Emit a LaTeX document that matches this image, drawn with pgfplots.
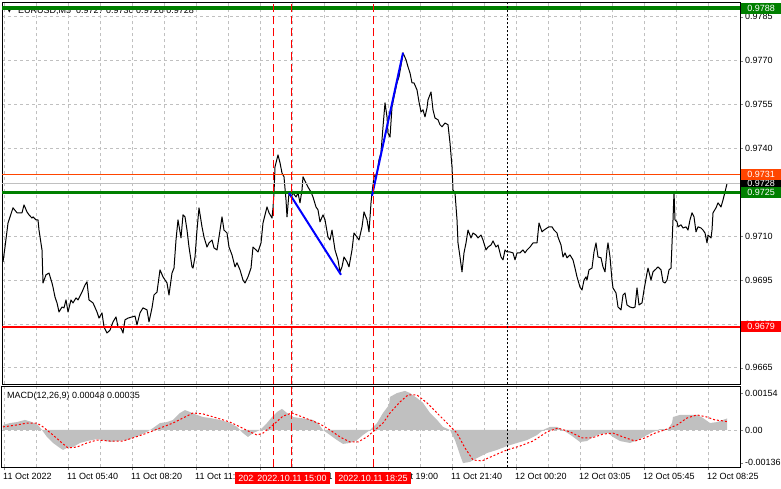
\documentclass[border=0pt]{standalone}
\usepackage{pgfplots}
\pgfplotsset{compat=1.18}
\usepackage{fontspec}
\setmainfont{Liberation Sans}
\newfontfamily\symfont{DejaVu Sans}

\definecolor{mtgreen}{HTML}{008000}
\definecolor{mtorange}{HTML}{FF4500}
\definecolor{mtred}{HTML}{FF0000}
\definecolor{mtblue}{HTML}{0000FF}
\definecolor{mtgrid}{HTML}{C0C0C0}
\newcommand\mt{\fontsize{9pt}{10pt}\selectfont}

\pgfplotsset{
  mtbase/.style={
    scale only axis, anchor=south west,
    xmin=2, xmax=740,
    axis line style={black, line width=1pt},
    tick align=outside, major tick length=3pt, minor tick length=0pt,
    ytick pos=right, yticklabel pos=right,
    tick label style={font=\mt, black},
    yticklabel style={anchor=west, inner sep=1pt, xshift=1pt},
    major grid style={mtgrid, line width=0.8pt, dash pattern=on 3pt off 3pt},
    minor grid style={mtgrid, line width=0.8pt, dash pattern=on 3pt off 3pt},
    scaled ticks=false,
    /pgf/number format/assume math mode=true,
  },
  tline/.style={red, line width=1pt, dash pattern=on 8pt off 4pt},
  nowline/.style={black, line width=1pt, dash pattern=on 2pt off 2pt},
}

\begin{document}
\begin{tikzpicture}
\useasboundingbox (0pt,0pt) rectangle (781pt,489pt);
\fill[white] (0pt,0pt) rectangle (781pt,489pt);

% header text sits under the level lines
\node[anchor=base west, inner sep=0pt, font=\fontsize{6pt}{7pt}\symfont] at (7pt,476pt) {▼};
\node[anchor=base west, inner sep=0pt, font=\mt] at (18pt,475pt) {EURUSD,M5\ \ 0.9727 0.9730 0.9726 0.9728};
\node[anchor=base west, inner sep=0pt, font=\mt] at (7pt,90pt) {MACD(12,26,9) 0.00048 0.00035};

% ---------------- price panel ----------------
\begin{axis}[mtbase,
  at={(2pt,104.5pt)}, width=738pt, height=382pt,
  ymin=0.96593, ymax=0.97899,
  xtick={4,36,...,708}, xticklabels={}, xtick style={draw=none},
  xmajorgrids, ymajorgrids,
  ytick={0.9665,0.968,0.9695,0.971,0.9725,0.974,0.9755,0.977,0.9785},
  yticklabels={0.9665,0.9680,0.9695,0.9710,0.9725,0.9740,0.9755,0.9770,0.9785},
]
\addplot[black, line width=1pt, line join=round, mark=none] coordinates {
(3,0.97012) (5,0.97063) (8,0.97145) (13,0.97197) (17,0.97180) (22,0.97180) (24,0.97207) (27,0.97183) (29,0.97173) (32,0.97162) (33,0.97166) (36,0.97156) (38,0.97156) (39,0.97121) (42,0.97053) (43,0.96940) (46,0.96968) (49,0.96974) (52,0.96940) (53,0.96926) (55,0.96892) (57,0.96872) (59,0.96841) (62,0.96858) (64,0.96855) (66,0.96882) (68,0.96841) (71,0.96882) (73,0.96872) (76,0.96889) (78,0.96882) (82,0.96909) (85,0.96933) (87,0.96944) (89,0.96882) (93,0.96872) (97,0.96841) (99,0.96820) (102,0.96838) (104,0.96790) (107,0.96769) (110,0.96779) (113,0.96807) (116,0.96824) (118,0.96790) (121,0.96786) (123,0.96769) (125,0.96814) (128,0.96820) (132,0.96824) (135,0.96827) (137,0.96797) (140,0.96838) (143,0.96855) (147,0.96848) (149,0.96807) (152,0.96855) (154,0.96899) (157,0.96909) (160,0.96985) (163,0.96961) (167,0.96940) (169,0.96899) (172,0.96974) (174,0.96991) (176,0.97087) (178,0.97156) (181,0.97094) (183,0.97173) (185,0.97166) (187,0.97121) (189,0.97063) (192,0.96995) (193,0.96991) (195,0.97029) (197,0.97121) (199,0.97197) (202,0.97132) (204,0.97097) (207,0.97063) (209,0.97077) (212,0.97087) (214,0.97060) (217,0.97053) (219,0.97097) (222,0.97166) (224,0.97121) (227,0.97111) (229,0.97063) (232,0.97036) (235,0.96995) (237,0.97009) (240,0.96985) (243,0.96950) (245,0.96940) (248,0.96961) (251,0.96991) (253,0.97063) (256,0.97053) (258,0.97046) (261,0.97077) (263,0.97145) (267,0.97200) (269,0.97180) (272,0.97162) (273,0.97197) (274,0.97248) (275,0.97337) (278,0.97378) (280,0.97351) (282,0.97316) (284,0.97303) (286,0.97224) (287,0.97166) (289,0.97248) (291,0.97234) (293,0.97248) (296,0.97234) (298,0.97248) (300,0.97214) (302,0.97258) (303,0.97303) (306,0.97282) (308,0.97268) (311,0.97251) (313,0.97234) (316,0.97200) (318,0.97190) (320,0.97149) (323,0.97173) (325,0.97156) (328,0.97097) (330,0.97087) (332,0.97121) (335,0.97053) (338,0.97019) (340,0.96978) (342,0.96995) (344,0.97029) (347,0.97012) (349,0.96995) (352,0.97053) (354,0.97111) (357,0.97097) (359,0.97087) (362,0.97132) (364,0.97183) (367,0.97156) (369,0.97115) (371,0.97214) (372,0.97248) (374,0.97303) (377,0.97316) (379,0.97361) (381,0.97385) (383,0.97474) (385,0.97556) (387,0.97508) (388,0.97453) (390,0.97439) (392,0.97542) (394,0.97576) (397,0.97624) (399,0.97645) (402,0.97703) (403,0.97727) (406,0.97703) (408,0.97679) (410,0.97658) (412,0.97624) (414,0.97624) (417,0.97600) (419,0.97559) (421,0.97525) (423,0.97532) (425,0.97508) (427,0.97539) (428,0.97566) (431,0.97593) (433,0.97532) (435,0.97504) (438,0.97498) (440,0.97481) (442,0.97474) (445,0.97487) (448,0.97481) (450,0.97419) (452,0.97337) (453,0.97258) (455,0.97248) (457,0.97156) (458,0.97077) (460,0.97029) (462,0.96978) (464,0.97043) (466,0.97077) (468,0.97121) (471,0.97094) (473,0.97111) (476,0.97104) (478,0.97094) (481,0.97104) (483,0.97087) (486,0.97053) (488,0.97063) (491,0.97070) (493,0.97084) (496,0.97063) (498,0.97070) (501,0.97029) (503,0.97019) (505,0.97053) (507,0.97046) (510,0.97046) (513,0.97043) (515,0.97019) (517,0.97043) (520,0.97043) (523,0.97053) (525,0.97043) (527,0.97053) (530,0.97063) (533,0.97077) (535,0.97077) (537,0.97077) (539,0.97145) (542,0.97115) (544,0.97121) (547,0.97128) (549,0.97132) (552,0.97132) (554,0.97121) (557,0.97111) (558,0.97097) (561,0.97070) (563,0.97029) (565,0.97043) (567,0.97026) (570,0.97036) (573,0.97019) (575,0.96991) (577,0.96961) (580,0.96926) (582,0.96916) (584,0.96950) (586,0.96961) (587,0.96950) (589,0.96985) (592,0.96991) (594,0.97046) (596,0.97077) (598,0.97029) (601,0.97026) (603,0.96995) (605,0.96978) (607,0.97053) (608,0.97077) (610,0.97029) (612,0.96950) (613,0.96923) (616,0.96906) (618,0.96858) (621,0.96848) (623,0.96899) (625,0.96906) (627,0.96865) (630,0.96858) (633,0.96855) (635,0.96858) (637,0.96923) (639,0.96865) (642,0.96872) (644,0.96916) (647,0.96974) (648,0.96991) (651,0.96950) (653,0.96978) (656,0.96988) (658,0.96995) (661,0.96985) (663,0.96944) (665,0.96940) (667,0.96950) (669,0.96985) (671,0.96991) (673,0.97156) (674,0.97251) (675,0.97156) (677,0.97149) (678,0.97132) (681,0.97139) (683,0.97128) (686,0.97132) (688,0.97121) (690,0.97156) (692,0.97180) (694,0.97166) (696,0.97115) (698,0.97132) (701,0.97128) (703,0.97121) (705,0.97111) (707,0.97077) (708,0.97104) (711,0.97094) (712,0.97121) (713,0.97180) (716,0.97197) (718,0.97214) (721,0.97200) (723,0.97224) (725,0.97251) (727,0.97280)
};
% level lines
\addplot[mtgrid, line width=1pt] coordinates {(2,0.9728) (740,0.9728)};
\addplot[mtorange, line width=1pt] coordinates {(2,0.9731) (740,0.9731)};
\addplot[mtgreen, line width=2.6pt] coordinates {(2,0.9725) (740,0.9725)};
\addplot[mtgreen, line width=3.6pt] coordinates {(2,0.9788) (740,0.9788)};
\addplot[mtred, line width=2pt] coordinates {(2,0.9679) (740,0.9679)};
% trend segments
\addplot[mtblue, line width=2pt] coordinates {(289,0.97248) (341,0.96968)};
\addplot[mtblue, line width=2pt] coordinates {(372,0.97238) (403,0.97727)};
% time markers
\addplot[tline] coordinates {(273,0.96593) (273,0.97899)};
\addplot[tline] coordinates {(291,0.96593) (291,0.97899)};
\addplot[tline] coordinates {(373,0.96593) (373,0.97899)};
\addplot[nowline] coordinates {(507,0.96593) (507,0.97899)};
\coordinate (L9788) at (axis cs:740,0.9788);
\coordinate (L9731) at (axis cs:740,0.9731);
\coordinate (L9728) at (axis cs:740,0.9728);
\coordinate (L9725) at (axis cs:740,0.9725);
\coordinate (L9679) at (axis cs:740,0.9679);
\end{axis}

% ---------------- MACD panel ----------------
\begin{axis}[mtbase,
  at={(2pt,21.5pt)}, width=738pt, height=81pt,
  ymin=-0.001564, ymax=0.001814,
  xtick pos=bottom,
  xtick={4,68,...,708},
  minor xtick={36,100,...,676},
  xticklabels={11 Oct 2022,11 Oct 05:40,11 Oct 08:20,11 Oct 11:00,11 Oct 13:40,11 Oct 16:20,11 Oct 19:00,11 Oct 21:40,12 Oct 00:20,12 Oct 03:05,12 Oct 05:45,12 Oct 08:25},
  xticklabel style={anchor=north west, inner sep=1pt, xshift=-2pt, yshift=-2pt},
  xmajorgrids, xminorgrids,
  ytick={-0.00136,0,0.00154},
  yticklabels={-0.00136,0.00,0.00154},
]
\addplot[mtgrid, line width=0.8pt, dash pattern=on 3pt off 3pt] coordinates {(2,0) (740,0)};
% MACD histogram
\addplot[fill=mtgrid, draw=none] coordinates {
(3,0) (3,0.00021) (10,0.00029) (17,0.00033) (25,0.00042) (32,0.00033) (38,0.00021) (42,0) (47,-0.00029) (53,-0.00054) (60,-0.00075) (63,-0.00083) (67,-0.00075) (73,-0.00071) (80,-0.00054) (87,-0.00046) (97,-0.00038) (103,-0.00042) (110,-0.00050) (117,-0.00046) (127,-0.00042) (133,-0.00033) (140,-0.00021) (147,-0.00008) (153,0.00008) (160,0.00029) (167,0.00033) (173,0.00042) (180,0.00071) (185,0.00083) (190,0.00075) (197,0.00063) (203,0.00054) (210,0.00050) (220,0.00042) (230,0.00029) (237,0.00013) (243,-0.00013) (248,-0.00029) (253,-0.00013) (260,0) (267,0.00029) (272,0.00054) (277,0.00075) (282,0.00088) (287,0.00071) (293,0.00054) (300,0.00050) (307,0.00046) (313,0.00042) (318,0.00029) (323,0) (330,-0.00021) (337,-0.00042) (343,-0.00058) (350,-0.00054) (357,-0.00042) (363,-0.00021) (370,0) (377,0.00029) (383,0.00071) (389,0.00104) (390,0.00138) (397,0.00154) (405,0.00163) (410,0.00154) (417,0.00133) (423,0.00113) (430,0.00071) (437,0.00042) (443,0.00013) (450,0) (455,-0.00042) (460,-0.00104) (463,-0.00138) (470,-0.00133) (477,-0.00117) (487,-0.00096) (497,-0.00083) (507,-0.00067) (517,-0.00054) (527,-0.00042) (537,-0.00021) (543,0) (550,0.00013) (557,0.00013) (563,0) (572,-0.00025) (580,-0.00050) (587,-0.00046) (593,-0.00029) (600,-0.00017) (608,-0.00013) (613,-0.00029) (620,-0.00046) (630,-0.00054) (638,-0.00042) (647,-0.00021) (653,-0.00008) (660,0.00004) (668,0.00004) (672,0.00029) (673,0.00054) (680,0.00063) (690,0.00063) (697,0.00063) (703,0.00050) (710,0.00029) (717,0.00033) (723,0.00042) (727,0.00048) (727,0)
};
% signal line
\addplot[mtred, line width=1pt, dash pattern=on 2pt off 2pt] coordinates {
(3,0.00013) (17,0.00021) (27,0.00029) (37,0.00029) (43,0.00013) (53,-0.00021) (62,-0.00054) (68,-0.00075) (77,-0.00071) (87,-0.00054) (97,-0.00042) (110,-0.00046) (123,-0.00046) (133,-0.00033) (147,-0.00013) (160,0.00008) (173,0.00029) (185,0.00054) (193,0.00071) (203,0.00067) (217,0.00050) (230,0.00033) (240,0.00013) (250,-0.00008) (257,-0.00021) (263,-0.00013) (273,0.00021) (283,0.00058) (292,0.00071) (300,0.00058) (310,0.00042) (320,0.00025) (330,0) (340,-0.00029) (350,-0.00050) (358,-0.00050) (367,-0.00029) (375,0) (383,0.00029) (390,0.00071) (400,0.00117) (408,0.00146) (417,0.00146) (427,0.00113) (437,0.00071) (447,0.00029) (457,-0.00013) (465,-0.00075) (473,-0.00125) (482,-0.00129) (493,-0.00108) (507,-0.00083) (520,-0.00067) (533,-0.00046) (547,-0.00008) (558,0.00008) (570,-0.00008) (582,-0.00033) (592,-0.00033) (603,-0.00017) (613,-0.00013) (623,-0.00029) (635,-0.00046) (645,-0.00033) (655,-0.00013) (667,0.00004) (677,0.00021) (687,0.00050) (697,0.00063) (707,0.00054) (715,0.00042) (723,0.00038) (727,0.00035)
};
\addplot[tline] coordinates {(273,-0.001564) (273,0.001814)};
\addplot[tline] coordinates {(291,-0.001564) (291,0.001814)};
\addplot[tline] coordinates {(373,-0.001564) (373,0.001814)};
\addplot[nowline] coordinates {(507,-0.001564) (507,0.001814)};
\end{axis}

% price tags on the right scale
\tikzset{ptag/.style={anchor=west, text=white, font=\mt, inner sep=0pt,
  minimum width=40pt, minimum height=11pt, xshift=1pt}}
\node[ptag, fill=black] at (L9728) {0.9728};
\node[ptag, fill=mtorange] at (L9731) {0.9731};
\node[ptag, fill=mtgreen] at (L9725) {0.9725};
\node[ptag, fill=mtgreen] at (L9788) {0.9788};
\node[ptag, fill=mtred] at (L9679) {0.9679};

% time tags on the bottom scale
\tikzset{ttag/.style={fill=mtred, text=white, font=\mt, inner xsep=3pt,
  inner ysep=0pt, minimum height=12pt}}
\node[ttag] at (273pt,11pt) {2022.10.11 14:15};
\node[ttag] at (292pt,11pt) {2022.10.11 15:00};
\node[ttag] at (373pt,11pt) {2022.10.11 18:25};
\end{tikzpicture}
\end{document}
